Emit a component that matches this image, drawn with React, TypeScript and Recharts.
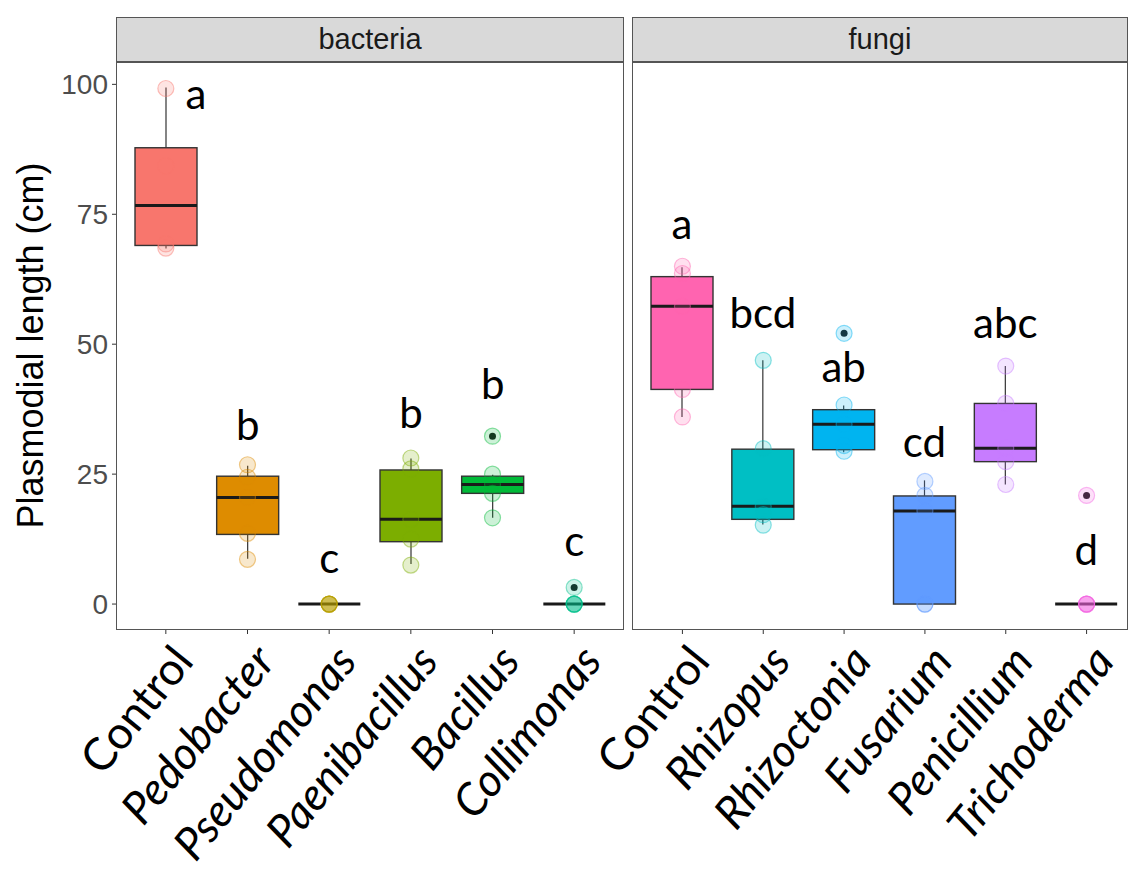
import { ComposedChart, Bar, Scatter, XAxis, YAxis } from "recharts";

// ggplot-style domain (0..99 with 5% expansion)
const Y_DOMAIN: [number, number] = [-4.8, 104.3];
const Y_TICKS = [0, 25, 50, 75, 100];

const BACTERIA = ["Control", "Pedobacter", "Pseudomonas", "Paenibacillus", "Bacillus", "Collimonas"];
const FUNGI = ["Control", "Rhizopus", "Rhizoctonia", "Fusarium", "Penicillium", "Trichoderma"];

const BACTERIA_COLORS = ["#F8766D", "#DE8C00", "#B79F00", "#7CAE00", "#00BA38", "#00C08B"];
const FUNGI_COLORS = ["#FF64B0", "#00BFC4", "#00B4F0", "#619CFF", "#C77CFF", "#F564E3"];

// [lower whisker, q1, median, q3, upper whisker]
const BACTERIA_BOX = [
  [68.4, 69.0, 76.7, 87.8, 99.4],
  [8.7, 13.4, 20.5, 24.6, 26.6],
  [0, 0, 0, 0, 0],
  [7.7, 12.0, 16.3, 25.8, 28.0],
  [16.6, 21.3, 23.0, 24.6, 24.9],
  [0, 0, 0, 0, 0],
];
const FUNGI_BOX = [
  [36.0, 41.3, 57.3, 63.0, 64.8],
  [15.3, 16.3, 18.8, 29.8, 46.9],
  [29.2, 29.7, 34.6, 37.4, 38.2],
  [0, 0, 17.9, 20.8, 23.8],
  [23.0, 27.4, 30.0, 38.6, 45.8],
  [0, 0, 0, 0, 0],
];

// raw observations (jitter layer)
const BACTERIA_POINTS = [
  [99.2, 84.3, 69.3, 68.5],
  [26.8, 24.4, 20.5, 13.6, 8.6],
  [0, 0, 0, 0, 0],
  [28.1, 26.0, 16.3, 12.5, 7.5],
  [32.3, 25.0, 23.0, 21.3, 16.6],
  [3.2, 0, 0, 0, 0],
];
const FUNGI_POINTS = [
  [65.0, 63.6, 57.3, 41.3, 36.0],
  [46.9, 29.9, 18.8, 17.2, 15.2],
  [52.1, 38.3, 34.6, 30.5, 29.4],
  [23.6, 20.9, 17.9, 0, 0],
  [45.8, 38.6, 30.0, 27.4, 23.0],
  [20.9, 0, 0, 0, 0],
];

const BACTERIA_OUTLIERS = [null, null, null, null, 32.3, 3.2];
const FUNGI_OUTLIERS = [null, null, 52.1, null, null, 20.9];

const BACTERIA_LETTERS = ["a", "b", "c", "b", "b", "c"];
const BACTERIA_LETTER_Y = [95.3, 31.5, 5.9, 33.9, 39.5, 9.3];
const FUNGI_LETTERS = ["a", "bcd", "ab", "cd", "abc", "d"];
const FUNGI_LETTER_Y = [70.2, 53.2, 42.7, 28.3, 51.2, 7.6];

const SANS = "'Liberation Sans', Arial, sans-serif";
const LETTER_FONT = "Lato, 'Open Sans', sans-serif";
const MAX_PTS = 5;

const buildRows = (
  groups: string[],
  colors: string[],
  box: number[][],
  pts: number[][],
  outliers: (number | null)[],
  letters: string[],
  letterY: number[],
) =>
  groups.map((name, i) => ({
    name,
    color: colors[i],
    stats: box[i],
    pts: pts[i],
    out: outliers[i],
    letter: letters[i],
    letterY: letterY[i],
  }));

const bacteriaRows = buildRows(BACTERIA, BACTERIA_COLORS, BACTERIA_BOX, BACTERIA_POINTS, BACTERIA_OUTLIERS, BACTERIA_LETTERS, BACTERIA_LETTER_Y);
const fungiRows = buildRows(FUNGI, FUNGI_COLORS, FUNGI_BOX, FUNGI_POINTS, FUNGI_OUTLIERS, FUNGI_LETTERS, FUNGI_LETTER_Y);

// box drawn inside a full-height bar so the bar rect gives us the y scale
const makeBoxShape = (nudge: number) => (props: any) => {
  const { x, y, width, height, payload, index } = props;
  const [lo, q1, med, q3, hi] = payload.stats;
  const span = Y_DOMAIN[1] - Y_DOMAIN[0];
  const py = (v: number) => y + ((Y_DOMAIN[1] - v) / span) * height;
  const cx = x + width / 2;
  const flat = q3 === q1;
  const dx = index === 0 ? nudge : 0;
  return (
    <g>
      {!flat && <line x1={cx} x2={cx} y1={py(hi)} y2={py(q3)} stroke="#333" strokeWidth={1.2} />}
      {!flat && <line x1={cx} x2={cx} y1={py(q1)} y2={py(lo)} stroke="#333" strokeWidth={1.2} />}
      {!flat && (
        <rect x={x} y={py(q3)} width={width} height={py(q1) - py(q3)} fill={payload.color} stroke="#333" strokeWidth={1.4} />
      )}
      <line x1={x} x2={x + width} y1={py(med)} y2={py(med)} stroke="#1a1a1a" strokeWidth={3} />
      <text x={cx + dx} y={py(payload.letterY)} textAnchor="middle" fontFamily={LETTER_FONT} fontSize={42} fill="#000">
        {payload.letter}
      </text>
    </g>
  );
};

const makePointShape = (k: number) => (props: any) => {
  const v = props.payload?.pts?.[k];
  if (v == null || !isFinite(props.cy)) return <g />;
  const c = props.payload.color;
  return <circle cx={props.cx} cy={props.cy} r={8} fill={c} fillOpacity={0.2} stroke={c} strokeOpacity={0.45} strokeWidth={1.2} />;
};

const OutlierShape = (props: any) => {
  if (props.payload?.out == null || !isFinite(props.cy)) return <g />;
  return <circle cx={props.cx} cy={props.cy} r={3.5} fill="#1a1a1a" />;
};

const XTick = ({ x, y, payload }: any) => (
  <text
    transform={`translate(${x + 2},${y + 4}) rotate(-51)`}
    textAnchor="end"
    dominantBaseline="hanging"
    fontFamily={LETTER_FONT}
    fontStyle={payload.value === "Control" ? "normal" : "italic"}
    fontSize={45}
    fill="#000"
  >
    {payload.value}
  </text>
);

const YTitle = ({ viewBox }: any) => {
  const cy = viewBox.y + viewBox.height / 2;
  return (
    <text transform={`translate(${viewBox.x + 43},${cy}) rotate(-90)`} textAnchor="middle" fontFamily={SANS} fontSize={36} fill="#000">
      Plasmodial length (cm)
    </text>
  );
};

interface PanelProps {
  rows: ReturnType<typeof buildRows>;
  width: number;
  showY: boolean;
  margin: { top: number; right: number; bottom: number; left: number };
  padding: { left: number; right: number };
  nudge: number;
}

const Panel = ({ rows, width, showY, margin, padding, nudge }: PanelProps) => (
  <ComposedChart width={width} height={873} data={rows} margin={margin}>
    <XAxis
      dataKey="name"
      type="category"
      interval={0}
      padding={padding}
      height={244}
      axisLine={false}
      tickSize={5}
      tickMargin={2}
      tickLine={{ stroke: "#333" }}
      tick={<XTick />}
    />
    <YAxis
      type="number"
      domain={Y_DOMAIN}
      ticks={Y_TICKS}
      hide={!showY}
      width={117}
      axisLine={false}
      tickSize={5}
      tickMargin={4}
      tickLine={{ stroke: "#333" }}
      tick={{ fontFamily: SANS, fontSize: 28, fill: "#4D4D4D" }}
      label={showY ? <YTitle /> : undefined}
    />
    <Bar dataKey={() => Y_DOMAIN} barSize={62} shape={makeBoxShape(nudge)} isAnimationActive={false} />
    <Scatter dataKey="out" shape={OutlierShape} isAnimationActive={false} />
    {Array.from({ length: MAX_PTS }, (_, k) => (
      <Scatter key={k} dataKey={(d: any) => d.pts[k]} shape={makePointShape(k)} isAnimationActive={false} />
    ))}
  </ComposedChart>
);

const Frame = ({ left, width, title }: { left: number; width: number; title: string }) => (
  <>
    <div
      style={{
        position: "absolute",
        left,
        top: 17,
        width,
        height: 46,
        boxSizing: "border-box",
        background: "#D9D9D9",
        border: "1.5px solid #555",
        textAlign: "center",
        lineHeight: "43px",
        fontFamily: SANS,
        fontSize: 29,
        color: "#1A1A1A",
      }}
    >
      {title}
    </div>
    <div
      style={{
        position: "absolute",
        left,
        top: 61,
        width,
        height: 569,
        boxSizing: "border-box",
        border: "1.5px solid #555",
        pointerEvents: "none",
      }}
    />
  </>
);

export default function App() {
  return (
    <div style={{ position: "absolute", left: 0, top: 0, width: 1138, height: 873, background: "#fff", overflow: "hidden" }}>
      <div style={{ position: "absolute", left: 0, top: 0 }}>
        <Panel
          rows={bacteriaRows}
          width={625}
          showY
          margin={{ top: 62, right: 2, bottom: 0, left: 0 }}
          padding={{ left: 8, right: 8 }}
          nudge={30}
        />
      </div>
      <div style={{ position: "absolute", left: 520, top: 0 }}>
        <Panel
          rows={fungiRows}
          width={618}
          showY={false}
          margin={{ top: 62, right: 11, bottom: 0, left: 113 }}
          padding={{ left: 9, right: 0 }}
          nudge={0}
        />
      </div>
      <Frame left={116} width={508} title="bacteria" />
      <Frame left={632} width={496} title="fungi" />
    </div>
  );
}
